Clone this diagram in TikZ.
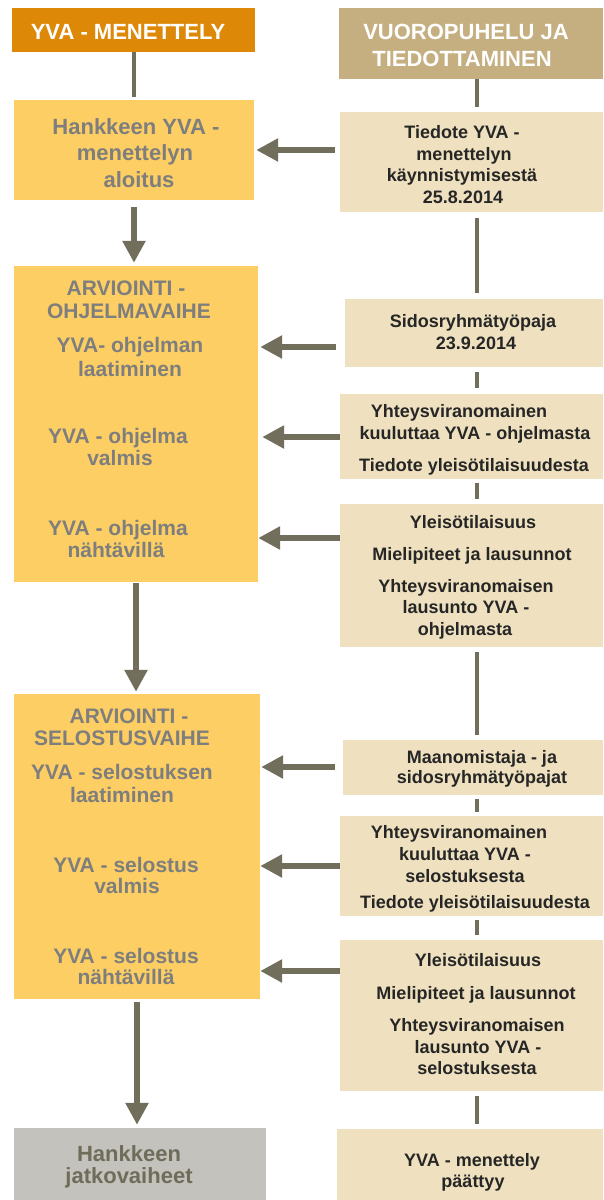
\documentclass[tikz,border=0pt]{standalone}
\usepackage{fontspec}
\setmainfont{Liberation Sans}
\usetikzlibrary{arrows.meta}
\definecolor{cOrange}{HTML}{DE8808}
\definecolor{cTan}{HTML}{C5AF80}
\definecolor{cYellow}{HTML}{FCCE63}
\definecolor{cBeige}{HTML}{EFE1BF}
\definecolor{cGrayBox}{HTML}{C3C2BD}
\definecolor{cLine}{HTML}{716E5C}
\definecolor{cTextL}{HTML}{7E7E7E}
\definecolor{cTextR}{HTML}{262626}
\definecolor{cTextG}{HTML}{6F6C5A}
\newcommand{\txtline}[5]{\node[#1] (#2) at (#3,#4) {#5};}
\tikzset{
  box/.style={rectangle, inner sep=0pt, draw=none},
  base/.style={anchor=base, inner sep=0pt},
  htxt/.style={base, text=white, font=\bfseries\fontsize{22}{26}\selectfont},
  ltxt/.style={base, text=cTextL, font=\bfseries\fontsize{21}{24}\selectfont},
  btxt/.style={base, text=cTextL, font=\bfseries\fontsize{22}{26}\selectfont},
  rtxt/.style={base, text=cTextR, font=\bfseries\fontsize{18}{22}\selectfont},
  gtxt/.style={base, text=cTextG, font=\bfseries\fontsize{22}{26}\selectfont},
  conn/.style={draw=cLine, line width=4pt},
  arr/.style={draw=cLine, line width=6pt, -{Triangle[length=22pt,width=22pt]}}
}
\begin{document}
\begin{tikzpicture}[x=1pt,y=-1pt]
\useasboundingbox (0,0) rectangle (603,1200);
\fill[white] (0,0) rectangle (603,1200);
% boxes
\node[box, fill=cOrange, minimum width=243pt, minimum height=44pt] (hL) at (133.5,30) {};
\node[box, fill=cTan, minimum width=264pt, minimum height=71pt] (hR) at (471,43.5) {};
\node[box, fill=cYellow, minimum width=240pt, minimum height=100pt] (b1) at (134,150) {};
\node[box, fill=cBeige, minimum width=263pt, minimum height=100pt] (r1) at (471.5,162) {};
\node[box, fill=cYellow, minimum width=244pt, minimum height=316pt] (b2) at (136,424) {};
\node[box, fill=cBeige, minimum width=258pt, minimum height=68pt] (r2) at (474,333) {};
\node[box, fill=cBeige, minimum width=263pt, minimum height=85pt] (r3) at (471.5,436.5) {};
\node[box, fill=cBeige, minimum width=263pt, minimum height=143pt] (r4) at (471.5,575.5) {};
\node[box, fill=cYellow, minimum width=246pt, minimum height=305pt] (b3) at (137,846.5) {};
\node[box, fill=cBeige, minimum width=260pt, minimum height=55pt] (r5) at (473,767.5) {};
\node[box, fill=cBeige, minimum width=263pt, minimum height=100pt] (r6) at (471.5,866) {};
\node[box, fill=cBeige, minimum width=263pt, minimum height=151pt] (r7) at (471.5,1015.5) {};
\node[box, fill=cGrayBox, minimum width=252pt, minimum height=72pt] (b4) at (140,1164) {};
\node[box, fill=cBeige, minimum width=266pt, minimum height=71pt] (r8) at (470,1164.5) {};
% texts
\txtline{htxt}{thL}{128}{39}{YVA - MENETTELY}
\txtline{htxt}{thR1}{466}{39}{VUOROPUHELU JA}
\txtline{htxt}{thR2}{462}{66}{TIEDOTTAMINEN}
\txtline{btxt}{tb1a}{136}{134}{Hankkeen YVA -}
\txtline{btxt}{tb1b}{135}{160}{menettelyn}
\txtline{btxt}{tb1c}{139}{187}{aloitus}
\txtline{rtxt}{tr1a}{462}{138}{Tiedote YVA -}
\txtline{rtxt}{tr1b}{464}{160}{menettelyn}
\txtline{rtxt}{tr1c}{462}{181}{käynnistymisestä}
\txtline{rtxt}{tr1d}{463}{203}{25.8.2014}
\txtline{ltxt}{tb2a}{126}{295}{ARVIOINTI -}
\txtline{ltxt}{tb2b}{129}{318}{OHJELMAVAIHE}
\txtline{ltxt}{tb2c}{130}{352}{YVA- ohjelman}
\txtline{ltxt}{tb2d}{130}{376}{laatiminen}
\txtline{ltxt}{tb2e}{118}{443}{YVA - ohjelma}
\txtline{ltxt}{tb2f}{120}{465}{valmis}
\txtline{ltxt}{tb2g}{118}{535}{YVA - ohjelma}
\txtline{ltxt}{tb2h}{116}{557}{nähtävillä}
\txtline{rtxt}{tr2a}{473}{327}{Sidosryhmätyöpaja}
\txtline{rtxt}{tr2b}{476}{349}{23.9.2014}
\txtline{rtxt}{tr3a}{459}{417}{Yhteysviranomainen}
\txtline{rtxt}{tr3b}{475}{439}{kuuluttaa YVA - ohjelmasta}
\txtline{rtxt}{tr3c}{474}{471}{Tiedote yleisötilaisuudesta}
\txtline{rtxt}{tr4a}{473}{528}{Yleisötilaisuus}
\txtline{rtxt}{tr4b}{472}{560}{Mielipiteet ja lausunnot}
\txtline{rtxt}{tr4c}{466}{592}{Yhteysviranomaisen}
\txtline{rtxt}{tr4d}{466}{613}{lausunto YVA -}
\txtline{rtxt}{tr4e}{465}{635}{ohjelmasta}
\txtline{ltxt}{tb3a}{129}{723}{ARVIOINTI -}
\txtline{ltxt}{tb3b}{122}{745}{SELOSTUSVAIHE}
\txtline{ltxt}{tb3c}{122}{779}{YVA - selostuksen}
\txtline{ltxt}{tb3d}{122}{802}{laatiminen}
\txtline{ltxt}{tb3e}{126}{872}{YVA - selostus}
\txtline{ltxt}{tb3f}{127}{893}{valmis}
\txtline{ltxt}{tb3g}{126}{963}{YVA - selostus}
\txtline{ltxt}{tb3h}{126}{984}{nähtävillä}
\txtline{rtxt}{tr5a}{482}{763}{Maanomistaja - ja}
\txtline{rtxt}{tr5b}{482}{783}{sidosryhmätyöpajat}
\txtline{rtxt}{tr6a}{459}{838}{Yhteysviranomainen}
\txtline{rtxt}{tr6b}{465}{860}{kuuluttaa YVA -}
\txtline{rtxt}{tr6c}{465}{882}{selostuksesta}
\txtline{rtxt}{tr6d}{475}{908}{Tiedote yleisötilaisuudesta}
\txtline{rtxt}{tr7a}{478}{966}{Yleisötilaisuus}
\txtline{rtxt}{tr7b}{476}{999}{Mielipiteet ja lausunnot}
\txtline{rtxt}{tr7c}{477}{1031}{Yhteysviranomaisen}
\txtline{rtxt}{tr7d}{478}{1053}{lausunto YVA -}
\txtline{rtxt}{tr7e}{477}{1074}{selostuksesta}
\txtline{gtxt}{tb4a}{129}{1161}{Hankkeen}
\txtline{gtxt}{tb4b}{129}{1183}{jatkovaiheet}
\txtline{rtxt}{tr8a}{472}{1166}{YVA - menettely}
\txtline{rtxt}{tr8b}{473}{1187}{päättyy}
% connectors
\coordinate (rc) at (477,0);
\draw[conn, shorten >=3pt] (hL.south) -- (hL.south |- b1.north);
\draw[conn, shorten >=5pt] (hR.south -| rc) -- (r1.north -| rc);
\draw[conn, shorten <=6pt, shorten >=6pt] (r1.south -| rc) -- (r2.north -| rc);
\draw[conn, shorten <=5pt, shorten >=6pt] (r2.south -| rc) -- (r3.north -| rc);
\draw[conn, shorten <=4pt, shorten >=5pt] (r3.south -| rc) -- (r4.north -| rc);
\draw[conn, shorten <=5pt, shorten >=5pt] (r4.south -| rc) -- (r5.north -| rc);
\draw[conn, shorten <=4pt, shorten >=4pt] (r5.south -| rc) -- (r6.north -| rc);
\draw[conn, shorten <=4pt, shorten >=5pt] (r6.south -| rc) -- (r7.north -| rc);
\draw[conn, shorten <=5pt, shorten >=5pt] (r7.south -| rc) -- (r8.north -| rc);
% horizontal arrows
\draw[arr, shorten <=5pt, shorten >=2pt] (r1.west |- 0,150) -- (b1.east |- 0,150);
\draw[arr, shorten <=9pt, shorten >=2pt] (r2.west |- 0,347) -- (b2.east |- 0,347);
\draw[arr, shorten >=4pt] (r3.west |- 0,437) -- (b2.east |- 0,437);
\draw[arr] (r4.west |- 0,538) -- (b2.east |- 0,538);
\draw[arr, shorten <=8pt, shorten >=1pt] (r5.west |- 0,767) -- (b3.east |- 0,767);
\draw[arr] (r6.west |- 0,866) -- (b3.east |- 0,866);
\draw[arr] (r7.west |- 0,971) -- (b3.east |- 0,971);
% vertical arrows
\draw[arr, shorten <=7pt, shorten >=3pt] (b1.south) -- (b1.south |- b2.north);
\draw[arr, shorten <=1pt, shorten >=2pt] (b2.south) -- (b2.south |- b3.north);
\draw[arr, shorten <=3pt, shorten >=3pt] (b3.south) -- (b3.south |- b4.north);
\end{tikzpicture}
\end{document}
